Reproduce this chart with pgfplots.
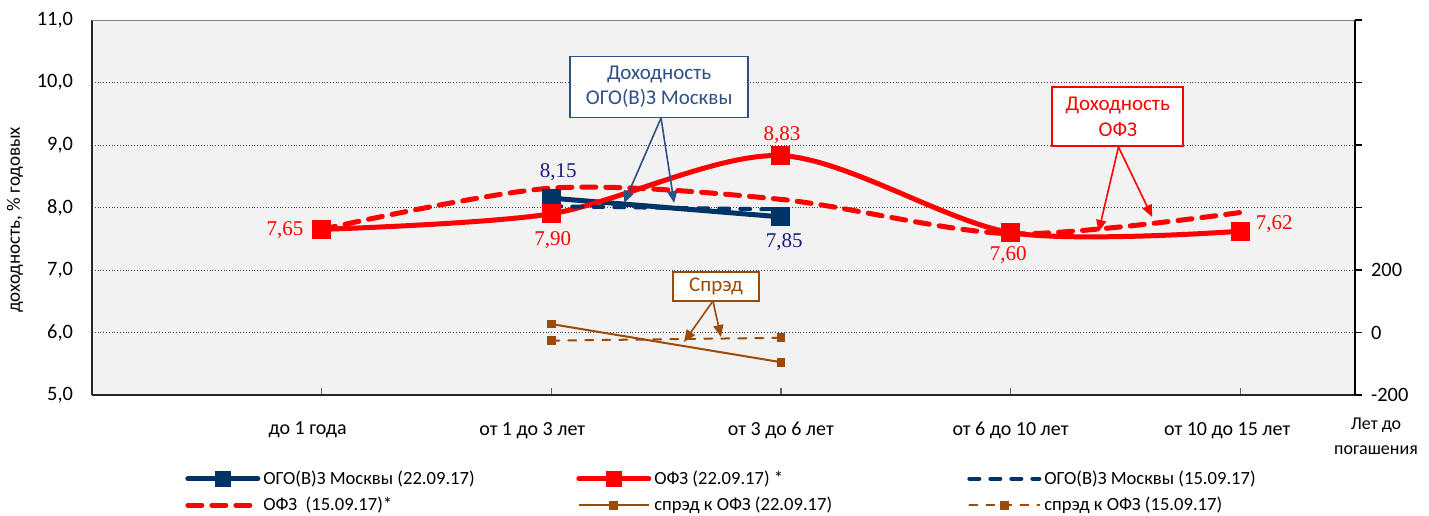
\documentclass[border=0pt]{standalone}
\usepackage{fontspec}
\setmainfont{Carlito}
\newfontfamily\tnr{Liberation Serif}
\usepackage{pgfplots}
\pgfplotsset{compat=1.18}
\usetikzlibrary{arrows.meta}

\definecolor{ogo}{RGB}{0,51,102}
\definecolor{ofz}{RGB}{255,0,0}
\definecolor{spr}{RGB}{156,74,6}
\definecolor{ogobox}{RGB}{46,80,130}
\definecolor{ogolbl}{RGB}{26,26,128}
\definecolor{bg}{RGB}{242,242,242}

\newcommand{\lgent}[1]{\makebox[155pt][l]{#1}}

\begin{document}
\begin{tikzpicture}
\useasboundingbox (-46pt,-60pt) rectangle (668.5pt,197.5pt);

% yields, left axis
\begin{axis}[
  name=ax,
  width=631.5pt, height=187.5pt, scale only axis,
  xmin=0, xmax=5.5, ymin=5, ymax=11,
  axis x line*=bottom, axis y line*=left,
  axis line style={black!85, line width=1pt},
  axis background/.style={fill=bg},
  xtick={1,2,3,4,5},
  xticklabels={\hspace*{-14pt}до 1 года, \hspace*{-19pt}от 1 до 3 лет, от 3 до 6 лет, от 6 до 10 лет, \hspace*{-13pt}от 10 до 15 лет},
  xticklabel style={font=\fontsize{10}{12}\selectfont, yshift=-10pt},
  xtick style={black!60, line width=0.6pt},
  tick align=inside, major tick length=3.5pt,
  ytick={5,6,...,11},
  ytick style={draw=none},
  yticklabel style={font=\fontsize{10.2}{12}\selectfont, xshift=-6pt,
    /pgf/number format/.cd, fixed, fixed zerofill, precision=1, use comma, assume math mode=true},
  ymajorgrids, grid style={black!75, densely dotted, line width=0.5pt},
  ylabel={доходность, \% годовых},
  every axis y label/.style={at={(axis description cs:-0.061,0.467)}, rotate=90, anchor=center,
    font=\fontsize{9.5}{11}\selectfont},
  legend columns=3,
  legend cell align=left,
  legend style={at={(0.0736,0)}, anchor=north west, yshift=-36pt, draw=none, fill=none,
    inner sep=0pt, row sep=2pt, font=\fontsize{9.3}{11}\selectfont, nodes={inner sep=1.5pt}},
  legend image code/.code={\draw[mark repeat=2,mark phase=2,#1] plot coordinates {(0pt,0pt) (17.5pt,0pt) (35pt,0pt)};},
  point meta=y,
  nodes near coords={\pgfmathprintnumber[fixed,fixed zerofill,precision=2,use comma,assume math mode=true]{\pgfplotspointmeta}},
  visualization depends on={value \thisrow{dx}\as\dx},
  visualization depends on={value \thisrow{dy}\as\dy},
  every node near coord/.append style={anchor=center, xshift=\dx pt, yshift=\dy pt,
    font=\tnr\fontsize{10.5}{12}\selectfont},
]
\addplot[ogo, line width=2.5pt, line cap=round, mark=square*, mark size=3.5pt,
  legend image post style={mark size=2.8pt},
  every node near coord/.append style={text=ogolbl}] table {
x y dx dy
2 8.15 3.5 13
3 7.85 1.7 -12.4
};
\addlegendentry{\lgent{ОГО(В)З Москвы (22.09.17)}}

\addplot[ofz, line width=2.5pt, line cap=round, smooth, mark=square*, mark size=3.5pt,
  legend image post style={mark size=2.8pt},
  every node near coord/.append style={text=ofz}] table {
x y dx dy
1 7.65 -18.3 -0.5
2 7.90 0.8 -13
3 8.83 0.5 10.3
4 7.60 -1.2 -11.2
5 7.62 17 3.5
};
\addlegendentry{\lgent{ОФЗ (22.09.17) *}}

\addplot[ogo, line width=2pt, line cap=round, dash pattern=on 5pt off 5.5pt, nodes near coords={}] table {
x y dx dy
2 8.02 0 0
3 7.97 0 0
};
\addlegendentry{\lgent{ОГО(В)З Москвы (15.09.17)}}

\addplot[ofz, line width=2.5pt, line cap=round, smooth, dash pattern=on 7pt off 5pt, nodes near coords={}] table {
x y dx dy
1 7.65 0 0
2 8.31 0 0
3 8.13 0 0
4 7.58 0 0
5 7.92 0 0
};
\addlegendentry{\lgent{ОФЗ\ \ (15.09.17)*}}

\addlegendimage{spr, line width=1pt, mark=square*, mark size=1.8pt}
\addlegendentry{\lgent{спрэд к ОФЗ (22.09.17)}}
\addlegendimage{spr, line width=1pt, line cap=round, dash pattern=on 4pt off 4.5pt, mark=square*, mark size=1.8pt, mark options={solid}}
\addlegendentry{\lgent{спрэд к ОФЗ (15.09.17)}}

\draw[black!50, line width=1pt] (rel axis cs:0,1) -- (rel axis cs:1,1);

% callouts
\node[draw=ogobox, line width=0.8pt, fill=white, text=ogobox, align=center, minimum width=89pt,
  minimum height=30.5pt, inner sep=0pt, font=\fontsize{10.5}{12.5}\selectfont]
  at (axis cs:2.470,9.928) {Доходность\\ОГО(В)З Москвы};
\draw[ogobox, line width=0.8pt, -{Triangle[length=6pt,width=5pt]}] (axis cs:2.478,9.432) -- (axis cs:2.317,8.072);
\draw[ogobox, line width=0.8pt, -{Triangle[length=6pt,width=5pt]}] (axis cs:2.478,9.432) -- (axis cs:2.535,8.072);

\node[draw=ofz, line width=0.8pt, fill=white, text=ofz, align=center, minimum width=65.5pt,
  minimum height=29.5pt, inner sep=0pt, font=\fontsize{10.5}{13}\selectfont]
  at (axis cs:4.467,9.456) {Доходность\\ОФЗ};
\draw[ofz, line width=0.8pt, -{Triangle[length=6pt,width=5pt]}] (axis cs:4.470,8.968) -- (axis cs:4.383,7.608);
\draw[ofz, line width=0.8pt, -{Triangle[length=6pt,width=5pt]}] (axis cs:4.470,8.968) -- (axis cs:4.617,7.848);

\node[draw=spr, line width=0.8pt, fill=white, text=spr, align=center, minimum width=43pt,
  minimum height=14.5pt, inner sep=0pt, font=\fontsize{10.5}{12.5}\selectfont]
  at (axis cs:2.717,6.736) {Спрэд};
\draw[spr, line width=0.8pt, -{Triangle[length=6pt,width=5pt]}] (axis cs:2.704,6.504) -- (axis cs:2.578,5.848);
\draw[spr, line width=0.8pt, -{Triangle[length=6pt,width=5pt]}] (axis cs:2.704,6.504) -- (axis cs:2.739,5.928);
\end{axis}

% spread, right axis
\begin{axis}[
  width=631.5pt, height=187.5pt, scale only axis,
  xmin=0, xmax=5.5, ymin=-200, ymax=1000,
  axis x line=none, axis y line*=right,
  axis line style={black, line width=0.8pt},
  ytick={-200,0,...,1000}, yticklabels={-200,0,200,{},{},{},{}},
  tick align=outside, major tick length=3.5pt,
  ytick style={black, line width=0.6pt},
  yticklabel style={font=\fontsize{10.2}{12}\selectfont, xshift=1pt},
]
\addplot[spr, line width=1pt, mark=square*, mark size=1.7pt] coordinates {(2,27) (3,-95)};
\addplot[spr, line width=1pt, line cap=round, dash pattern=on 4pt off 4.5pt, mark=square*, mark size=1.7pt,
  mark options={solid}] coordinates {(2,-26) (3,-17)};
\end{axis}

\node[align=center, anchor=north, inner sep=0pt, xshift=10.5pt, yshift=-11.5pt,
  font=\fontsize{9}{12.5}\selectfont] at (ax.south east) {Лет до\\погашения};
\end{tikzpicture}
\end{document}
